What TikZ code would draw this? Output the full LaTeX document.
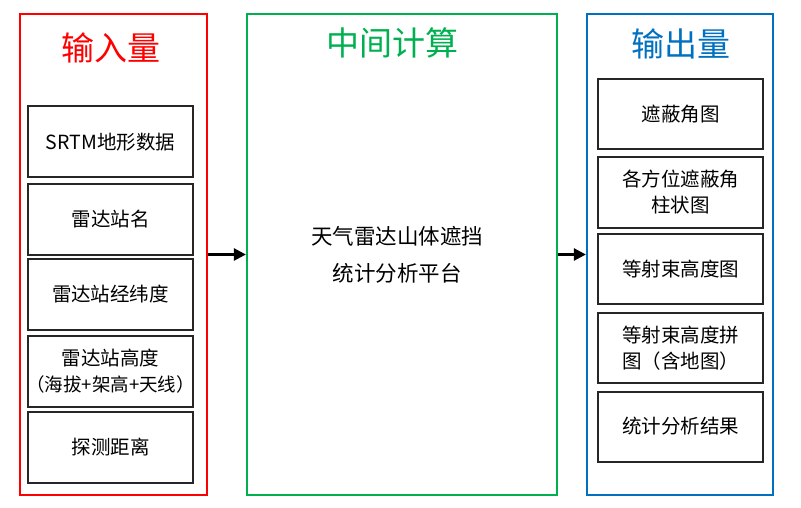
\documentclass[tikz,border=0pt]{standalone}
\usepackage{fontspec}
\setmainfont{Noto Sans CJK SC}
\usetikzlibrary{arrows.meta}
\definecolor{inred}{RGB}{255,0,0}
\definecolor{midgreen}{RGB}{0,176,80}
\definecolor{outblue}{RGB}{0,112,192}

\begin{document}
\begin{tikzpicture}[x=1pt, y=-1pt, >={Triangle[length=12pt, width=12pt]},
	frame/.style={
		% The shape:
		rectangle,
		% The border
		line width=2.2pt},
	item/.style={
		% The shape:
		rectangle,
		% The size:
		minimum width=165pt, minimum height=71pt,
		% The border
		line width=2pt, draw=black!85,
		% The text
		align=center, font=\fontsize{19.5}{26}\selectfont},
	heading/.style={font=\fontsize{33}{36}\selectfont}]
    \useasboundingbox (0,0) rectangle (801,508);
    % three columns
    \node [frame, draw=inred, minimum width=187pt, minimum height=481pt] (input) at (113.5,254.5) {};
    \node [frame, draw=midgreen, minimum width=310pt, minimum height=481pt] (middle) at (402,254.5) {};
    \node [frame, draw=outblue, minimum width=186pt, minimum height=481pt] (output) at (680,254.5) {};
    \node [heading, text=inred] (intitle) at (111,48) {输入量};
    \node [heading, text=midgreen] (midtitle) at (392.5,43) {中间计算};
    \node [heading, text=outblue] (outtitle) at (681,44) {输出量};
    % inputs
    \node [item] (srtm) at (110.5,142) {SRTM地形数据};
    \node [item] (name) at (110.5,219.5) {雷达站名};
    \node [item] (lonlat) at (110.5,294.5) {雷达站经纬度};
    \node [item, inner xsep=1pt] (height) at (110.5,371) {雷达站高度\\{\fontsize{18.5}{28}\selectfont\addfontfeature{RawFeature=+halt}（海拔+架高+天线）}};
    \node [item] (range) at (110.5,447.5) {探测距离};
    % platform
    \node [align=center, font=\fontsize{21.5}{37}\selectfont] (platform) at (397,254.5) {天气雷达山体遮挡\\统计分析平台};
    % outputs
    \node [item, minimum height=70pt] (angle) at (680.5,114) {遮蔽角图};
    \node [item, minimum height=70pt] (bars) at (680.5,192.5) {各方位遮蔽角\\柱状图};
    \node [item, minimum height=70pt] (beam) at (680.5,269) {等射束高度图};
    \node [item, minimum height=70pt] (mosaic) at (680.5,348) {等射束高度拼\\图（含地图）};
    \node [item, minimum height=70pt] (stats) at (680.5,426.5) {统计分析结果};
    % arrows
    \draw [->, line width=2.5pt] (input.east) -- (middle.west);
    \draw [->, line width=2.5pt] (middle.east) -- (output.west);
\end{tikzpicture}
\end{document}
